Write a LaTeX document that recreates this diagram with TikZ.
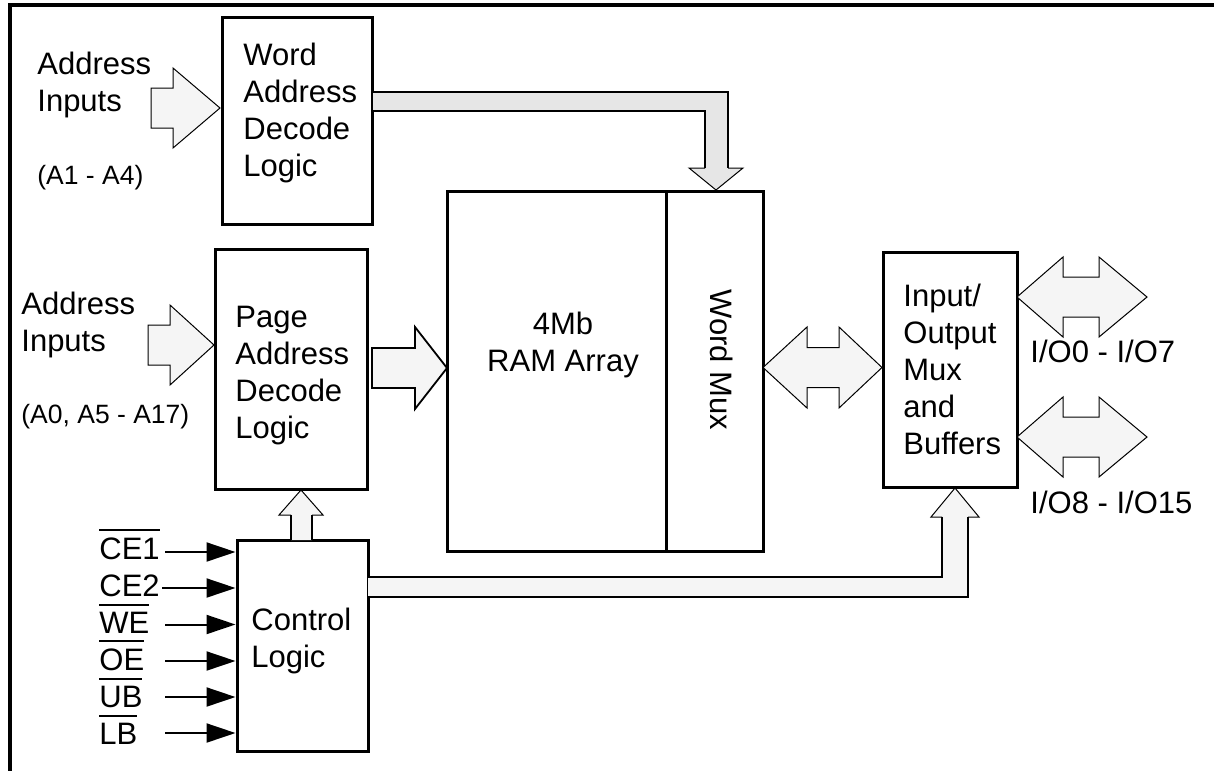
\documentclass[tikz,border=0pt]{standalone}
\usepackage{fontspec}
\setmainfont{Liberation Sans}
\usetikzlibrary{arrows.meta}
\definecolor{arrowlight}{HTML}{F5F5F5}
\definecolor{arrowgray}{HTML}{E6E6E6}
\newcommand{\ovl}[1]{\vbox{\hrule height 1pt\kern 3pt\hbox{#1}}}
\begin{document}
\begin{tikzpicture}[x=0.5pt,y=-0.5pt,
  box/.style={draw, line width=1.5pt, inner sep=0pt, rectangle},
  txt/.style={font=\fontsize{15.5}{18.5}\selectfont, inner sep=0pt, align=left, anchor=base west},
  smalltxt/.style={font=\fontsize{13.25}{16}\selectfont, inner sep=0pt, anchor=base west},
  sig/.style={line width=1pt, -{Triangle[length=14.5pt,width=9.5pt]}},
  thinarrow/.style={fill=arrowlight, draw=black, line width=0.5pt, line join=miter},
  thickedge/.style={line width=1.2pt},
  thinedge/.style={line width=0.5pt}]
\useasboundingbox (0,0) rectangle (1214,771);
% outer frame
\draw[line width=1.75pt] (1214,5) -- (10,5) -- (10,771);

% boxes
\node[box, minimum width=75pt, minimum height=103.5pt] (word) at (297,120.5) {};
\node[box, minimum width=76pt, minimum height=120pt] (page) at (291,369) {};
\node[box, minimum width=158pt, minimum height=180pt] (ram) at (605,371) {};
\node[box, minimum width=65.5pt, minimum height=105.5pt] (ctrl) at (302.5,645.5) {};
\node[box, minimum width=67pt, minimum height=117.5pt] (io) at (950,369.5) {};
\coordinate (divtop) at (666,191);
\coordinate (divbot) at (666,551);
\draw[line width=1.5pt] (divtop) -- (divbot);

% texts (base anchor = baseline of the last line)
\node[txt] (wordtxt) at (243,176) {Word\\Address\\Decode\\Logic};
\node[txt] (pagetxt) at (235,438) {Page\\Address\\Decode\\Logic};
\node[txt] (ctrltxt) at (251,667) {Control\\Logic};
\node[txt] (iotxt) at (903,454) {Input/\\Output\\Mux\\and\\Buffers};
\node[txt, align=center, anchor=base] (ramtxt) at (563,371) {4Mb\\RAM Array};
\node[txt, anchor=base, rotate=-90] (muxtxt) at (710,360) {Word Mux};
\node[txt] (ain1) at (37,111) {Address\\Inputs};
\node[smalltxt] (arange1) at (37,184) {(A1 - A4)};
\node[txt] (ain2) at (21,351) {Address\\Inputs};
\node[smalltxt] (arange2) at (21,423) {(A0, A5 - A17)};
\node[txt] (io07) at (1030,362) {I/O0 - I/O7};
\node[txt] (io815) at (1030,513) {I/O8 - I/O15};

% control signals
\node[txt] (lce1) at (99,559) {\ovl{CE1}};
\node[txt] (lce2) at (99,596) {CE2};
\node[txt] (lwe) at (99,633) {\ovl{WE}};
\node[txt] (loe) at (99,670) {\ovl{OE}};
\node[txt] (lub) at (99,707) {\ovl{UB}};
\node[txt] (llb) at (99,744) {\ovl{LB}};
\coordinate (s1) at (165,552);
\coordinate (s2) at (162,588);
\coordinate (s3) at (165,624.5);
\coordinate (s4) at (165,661);
\coordinate (s5) at (165,697);
\coordinate (s6) at (165,733);
\foreach \s in {s1,s2,s3,s4,s5,s6}{
  \draw[sig] (\s) -- (\s -| ctrl.west);
}

% block arrows: address inputs
\filldraw[thinarrow] (151,88) -- (173,88) -- (173,68) -- (220,108) -- (173,148) -- (173,128) -- (151,128) -- cycle;
\filldraw[thinarrow] (148,325) -- (170,325) -- (170,305) -- (214,345) -- (170,385) -- (170,365) -- (148,365) -- cycle;
% page -> ram
\filldraw[thinarrow, line width=0.9pt] (372,348) -- (415,348) -- (415,327) -- (447,368) -- (415,409) -- (415,388) -- (372,388) -- cycle;
% ram <-> io
\filldraw[thinarrow] (763,367.5) -- (807,327) -- (807,347.5) -- (839,347.5) -- (839,327) -- (882,367.5) -- (839,408) -- (839,387.5) -- (807,387.5) -- (807,408) -- cycle;
% io <-> outside
\filldraw[thinarrow] (1017,297) -- (1063,257) -- (1063,277) -- (1099,277) -- (1099,257) -- (1147,297) -- (1099,337) -- (1099,317) -- (1063,317) -- (1063,337) -- cycle;
\filldraw[thinarrow] (1017,437) -- (1063,397) -- (1063,417) -- (1099,417) -- (1099,397) -- (1147,437) -- (1099,477) -- (1099,457) -- (1063,457) -- (1063,477) -- cycle;
% control -> page
\fill[arrowlight] (291,540) -- (291,515) -- (279,515) -- (301,490) -- (323,515) -- (312,515) -- (312,540) -- cycle;
\draw[line width=1pt] (291,540) -- (291,515);
\draw[line width=1pt] (312,540) -- (312,515);
\draw[thinedge, line join=miter] (291,515) -- (279,515) -- (301,490) -- (323,515) -- (312,515);
% word decode -> word mux
\fill[arrowgray] (373,92) -- (728,92) -- (728,168) -- (743,168) -- (716,190) -- (689,168) -- (705,168) -- (705,111) -- (373,111) -- cycle;
\draw[thickedge] (373,92) -- (728,92) -- (728,168);
\draw[thickedge] (705,168) -- (705,111) -- (373,111);
\draw[thinedge, line join=miter] (728,168) -- (743,168) -- (716,190) -- (689,168) -- (705,168);
% control -> io
\fill[arrowlight] (368,577) -- (942,577) -- (942,517) -- (931,517) -- (955,488) -- (979,517) -- (968,517) -- (968,597) -- (368,597) -- cycle;
\draw[thickedge] (368,577) -- (942,577) -- (942,517);
\draw[thickedge] (968,517) -- (968,597) -- (368,597);
\draw[thinedge, line join=miter] (942,517) -- (931,517) -- (955,488) -- (979,517) -- (968,517);
\end{tikzpicture}
\end{document}
